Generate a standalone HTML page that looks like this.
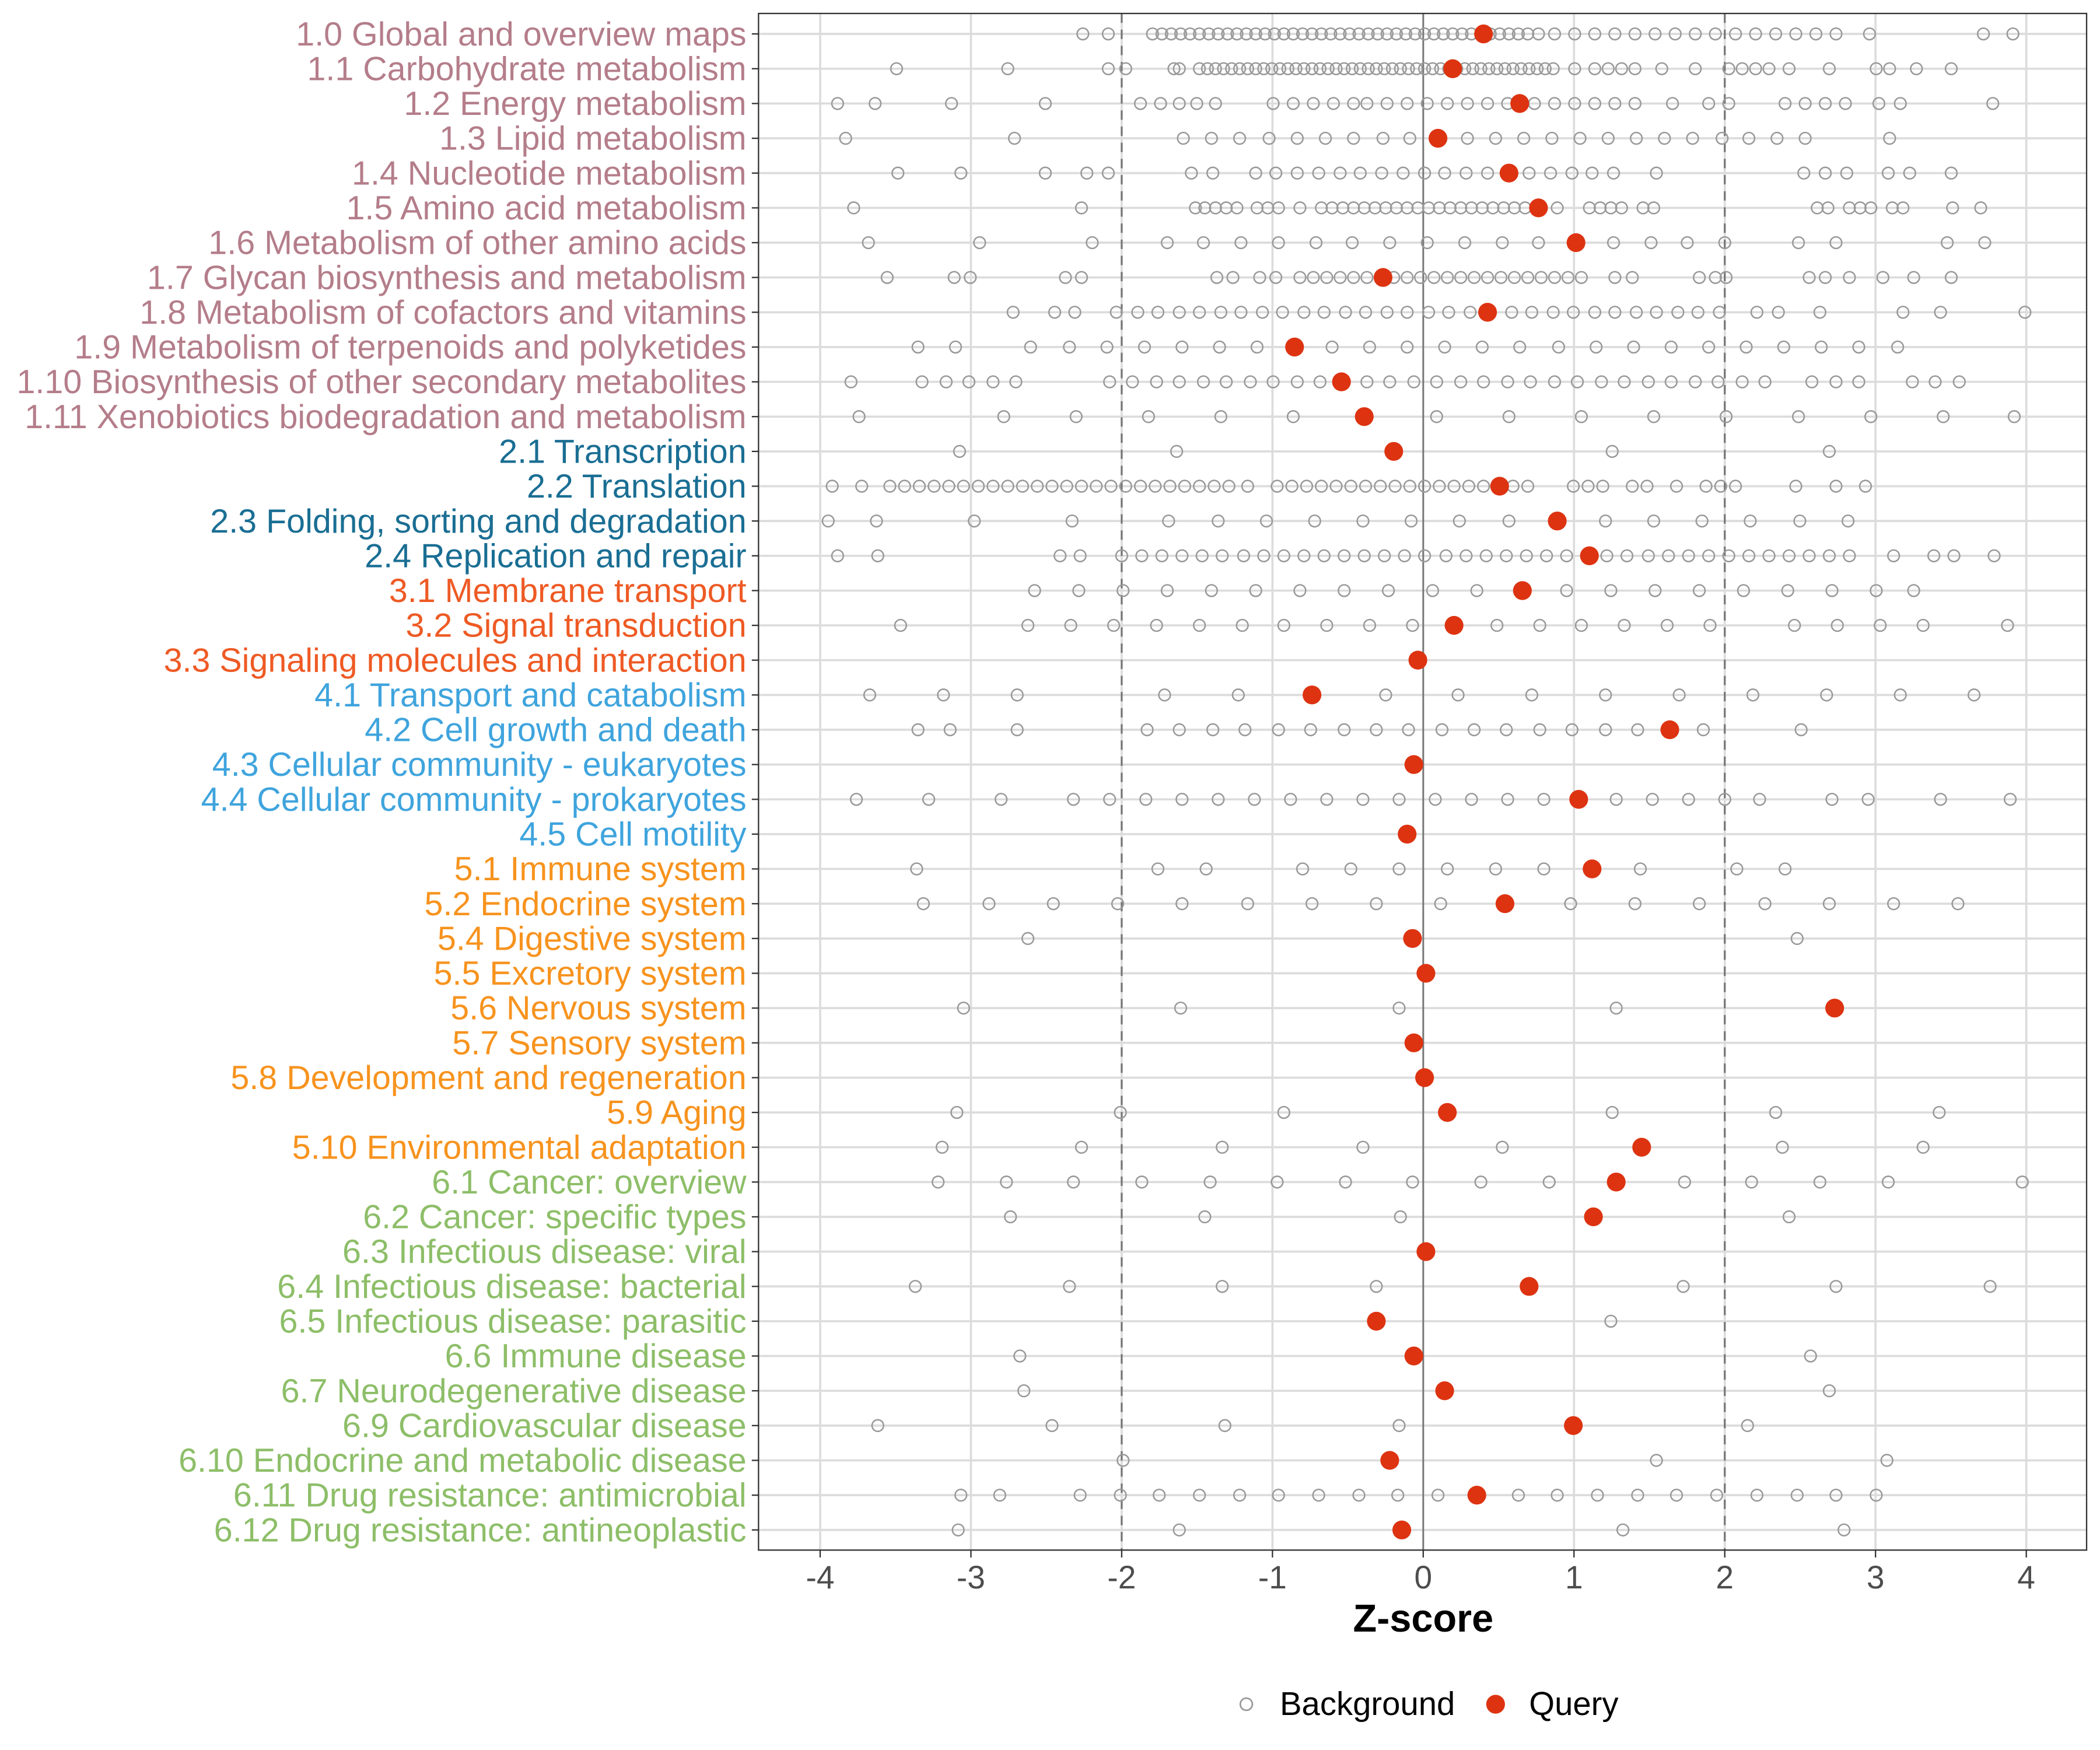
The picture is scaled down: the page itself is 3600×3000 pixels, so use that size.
<!DOCTYPE html>
<html><head><meta charset="utf-8"><style>
html,body{margin:0;padding:0;background:#fff;}
svg{display:block;}
</style></head><body>
<svg id="s" width="3600" height="3000" viewBox="0 0 1567 1300" preserveAspectRatio="none" xmlns="http://www.w3.org/2000/svg" font-family="Liberation Sans, sans-serif">
<rect width="1567" height="1300" fill="#fff"/>
<g id="grid"></g>
<g id="pts"></g>
<g id="labs" font-size="25" text-anchor="end"></g>
<rect x="566" y="10" width="991" height="1141.5" fill="none" stroke="#333" stroke-width="1"/>
<g font-size="24" fill="#4d4d4d" text-anchor="middle">
<text x="612" y="1180">-4</text><text x="724.5" y="1180">-3</text><text x="837" y="1180">-2</text><text x="949.5" y="1180">-1</text><text x="1062" y="1180">0</text><text x="1174.5" y="1180">1</text><text x="1287" y="1180">2</text><text x="1399.5" y="1180">3</text><text x="1512" y="1180">4</text>
</g>
<text x="1062" y="1212" font-size="29" font-weight="bold" text-anchor="middle">Z-score</text>
<circle cx="930" cy="1266" r="4.5" fill="none" stroke="#999" stroke-width="1.2"/>
<text x="955" y="1274" font-size="24.5">Background</text>
<circle cx="1116" cy="1266" r="7" fill="#DD3311"/>
<text x="1141" y="1274" font-size="24.5">Query</text>
</svg>
<script>
const labels=[["1.0 Global and overview maps",0],["1.1 Carbohydrate metabolism",0],["1.2 Energy metabolism",0],["1.3 Lipid metabolism",0],["1.4 Nucleotide metabolism",0],["1.5 Amino acid metabolism",0],["1.6 Metabolism of other amino acids",0],["1.7 Glycan biosynthesis and metabolism",0],["1.8 Metabolism of cofactors and vitamins",0],["1.9 Metabolism of terpenoids and polyketides",0],["1.10 Biosynthesis of other secondary metabolites",0],["1.11 Xenobiotics biodegradation and metabolism",0],
["2.1 Transcription",1],["2.2 Translation",1],["2.3 Folding, sorting and degradation",1],["2.4 Replication and repair",1],
["3.1 Membrane transport",2],["3.2 Signal transduction",2],["3.3 Signaling molecules and interaction",2],
["4.1 Transport and catabolism",3],["4.2 Cell growth and death",3],["4.3 Cellular community - eukaryotes",3],["4.4 Cellular community - prokaryotes",3],["4.5 Cell motility",3],
["5.1 Immune system",4],["5.2 Endocrine system",4],["5.4 Digestive system",4],["5.5 Excretory system",4],["5.6 Nervous system",4],["5.7 Sensory system",4],["5.8 Development and regeneration",4],["5.9 Aging",4],["5.10 Environmental adaptation",4],
["6.1 Cancer: overview",5],["6.2 Cancer: specific types",5],["6.3 Infectious disease: viral",5],["6.4 Infectious disease: bacterial",5],["6.5 Infectious disease: parasitic",5],["6.6 Immune disease",5],["6.7 Neurodegenerative disease",5],["6.9 Cardiovascular disease",5],["6.10 Endocrine and metabolic disease",5],["6.11 Drug resistance: antimicrobial",5],["6.12 Drug resistance: antineoplastic",5]];
const cols=["#B47D8A","#1A6E93","#EE5A24","#3FA4DD","#F7931E","#8DBE68"];
const q=[1107,1084,1134,1073,1126,1148,1176,1032,1110,966,1001,1018,1040,1119,1162,1186,1136,1085,1058,979,1246,1055,1178,1050,1188,1123,1054,1064,1369,1055,1063,1080,1225,1206,1189,1064,1141,1027,1055,1078,1174,1037,1102,1046];
const bg=[
[808,827,[860,1140,7],1148,1160,1175,1190,1205,1220,1235,1250,1265,1280,1295,1310,1325,1340,1355,1370,1395,1480,1502],
[669,752,827,840,876,880,[895,1160,6],1175,1190,1200,1210,1220,1240,1265,1290,1300,1310,1320,1335,1365,1400,1410,1430,1456],
[625,653,710,780,851,866,880,893,907,950,965,980,995,1010,1020,1035,1050,1065,1080,1095,1110,1125,1145,1160,1175,1190,1205,1220,1248,1275,1290,1332,1347,1362,1377,1402,1418,1487],
[631,757,883,904,925,947,968,989,1010,1032,1052,1074,1095,1116,1137,1158,1179,1200,1221,1242,1263,1285,1305,1326,1347,1410],
[670,717,780,811,827,889,905,937,952,968,984,1000,1015,1031,1047,1063,1078,1094,1110,1126,1141,1157,1173,1188,1204,1236,1346,1362,1378,1409,1425,1456],
[637,807,892,899,907,915,923,938,946,954,970,986,994,1002,1010,1018,1026,1034,1042,1050,1058,1066,1074,1082,1090,1098,1106,1114,1122,1130,1138,1162,1186,1194,1202,1210,1226,1234,1356,1364,1380,1388,1396,1412,1420,1457,1478],
[648,731,815,871,898,926,954,982,1009,1037,1065,1093,1121,1148,1176,1204,1232,1259,1287,1342,1370,1453,1481],
[662,712,724,795,807,908,920,940,952,970,980,990,1000,1010,1020,1030,1040,1050,1060,1070,1080,1090,1100,1110,1120,1130,1140,1150,1160,1170,1180,1205,1218,1268,1280,1288,1350,1362,1380,1405,1428,1456],
[756,787,802,833,849,864,880,895,911,926,942,957,973,988,1004,1019,1035,1050,1066,1081,1097,1112,1128,1143,1159,1174,1190,1205,1221,1236,1252,1267,1283,1311,1327,1358,1420,1448,1511],
[685,713,769,798,826,854,882,910,938,994,1022,1050,1078,1106,1134,1163,1191,1219,1247,1275,1303,1331,1359,1387,1416],
[635,688,706,723,741,758,828,845,863,880,898,915,933,950,968,985,1020,1037,1055,1072,1090,1107,1125,1142,1160,1177,1195,1212,1230,1247,1265,1282,1300,1317,1352,1370,1387,1427,1444,1462],
[641,749,803,857,911,965,1072,1126,1180,1234,1288,1342,1396,1450,1503],
[716,878,1203,1365],
[621,643,664,675,686,697,708,719,730,741,752,763,774,785,796,807,818,829,840,851,862,873,884,895,906,917,931,953,964,975,986,997,1008,1019,1030,1041,1052,1063,1074,1085,1096,1107,1129,1140,1174,1185,1196,1218,1229,1251,1273,1284,1295,1340,1370,1392],
[618,654,727,800,872,909,945,981,1017,1053,1089,1126,1198,1234,1270,1306,1343,1379],
[625,655,791,806,837,852,867,882,897,912,928,943,958,973,988,1003,1018,1033,1048,1063,1079,1094,1109,1124,1139,1154,1169,1199,1214,1230,1245,1260,1275,1290,1305,1320,1335,1350,1365,1380,1413,1443,1458,1488],
[772,805,838,871,904,937,970,1003,1036,1069,1102,1169,1202,1235,1268,1301,1334,1367,1400,1428],
[672,767,799,831,863,895,927,958,990,1022,1054,1117,1149,1180,1212,1244,1276,1339,1371,1403,1435,1498],
[],
[649,704,759,869,924,1034,1088,1143,1198,1253,1308,1363,1418,1473],
[685,709,759,856,880,905,929,954,978,1003,1027,1051,1076,1100,1124,1149,1173,1198,1222,1271,1344],
[],
[639,693,747,801,828,855,882,909,936,963,990,1017,1044,1071,1098,1125,1152,1206,1233,1260,1287,1313,1367,1394,1448,1500],
[],
[684,864,900,972,1008,1044,1080,1116,1152,1224,1296,1332],
[689,738,786,834,882,931,979,1027,1075,1172,1220,1268,1317,1365,1413,1461],
[767,1341],
[],
[719,881,1044,1206],
[],[],
[714,836,958,1203,1325,1447],
[703,807,912,1017,1121,1330,1435],
[700,751,801,852,903,953,1004,1054,1105,1156,1257,1307,1358,1409,1509],
[754,899,1045,1335],
[],
[683,798,912,1027,1256,1370,1485],
[1202],
[761,1351],
[764,1365],
[655,785,914,1044,1304],
[838,1236,1408],
[717,746,806,836,865,895,925,954,984,1014,1043,1073,1133,1162,1192,1222,1251,1281,1311,1341,1370,1400],
[715,880,1211,1376]];
const NS="http://www.w3.org/2000/svg";
function el(p,t,a,txt){const e=document.createElementNS(NS,t);for(const k in a)e.setAttribute(k,a[k]);if(txt!==undefined)e.textContent=txt;p.appendChild(e);return e;}
const grid=document.getElementById("grid"),pts=document.getElementById("pts"),labs=document.getElementById("labs");
const Y=i=>25.2+i*25.845;
for(let i=0;i<44;i++){el(grid,"line",{x1:566,x2:1557,y1:Y(i),y2:Y(i),stroke:"#dcdcdc","stroke-width":1.6});
 el(grid,"line",{x1:561,x2:566,y1:Y(i),y2:Y(i),stroke:"#333","stroke-width":1});}
for(let k=-4;k<=4;k++){const x=1062+k*112.5;
 el(grid,"line",{x1:x,x2:x,y1:10,y2:1151.5,stroke:k==0?"#777":"#dcdcdc","stroke-width":k==0?1.3:1.6});
 el(grid,"line",{x1:x,x2:x,y1:1151.5,y2:1157,stroke:"#333","stroke-width":1});}
for(const k of[-2,2]){const x=1062+k*112.5;el(grid,"line",{x1:x,x2:x,y1:10,y2:1151.5,stroke:"#777","stroke-width":1.4,"stroke-dasharray":"7,5"});}
for(let i=0;i<44;i++){
 el(labs,"text",{x:557,y:Y(i)+8.5,fill:cols[labels[i][1]]},labels[i][0]);
 const xs=[];for(const v of bg[i]){if(Array.isArray(v)){for(let x=v[0];x<=v[1];x+=v[2])xs.push(x);}else xs.push(v);}
 for(const x of xs)el(pts,"circle",{cx:x,cy:Y(i),r:4.3,fill:"none",stroke:"#999","stroke-width":1.1});
 el(pts,"circle",{cx:q[i],cy:Y(i),r:7,fill:"#DD3311"});
}
</script>
</body></html>
